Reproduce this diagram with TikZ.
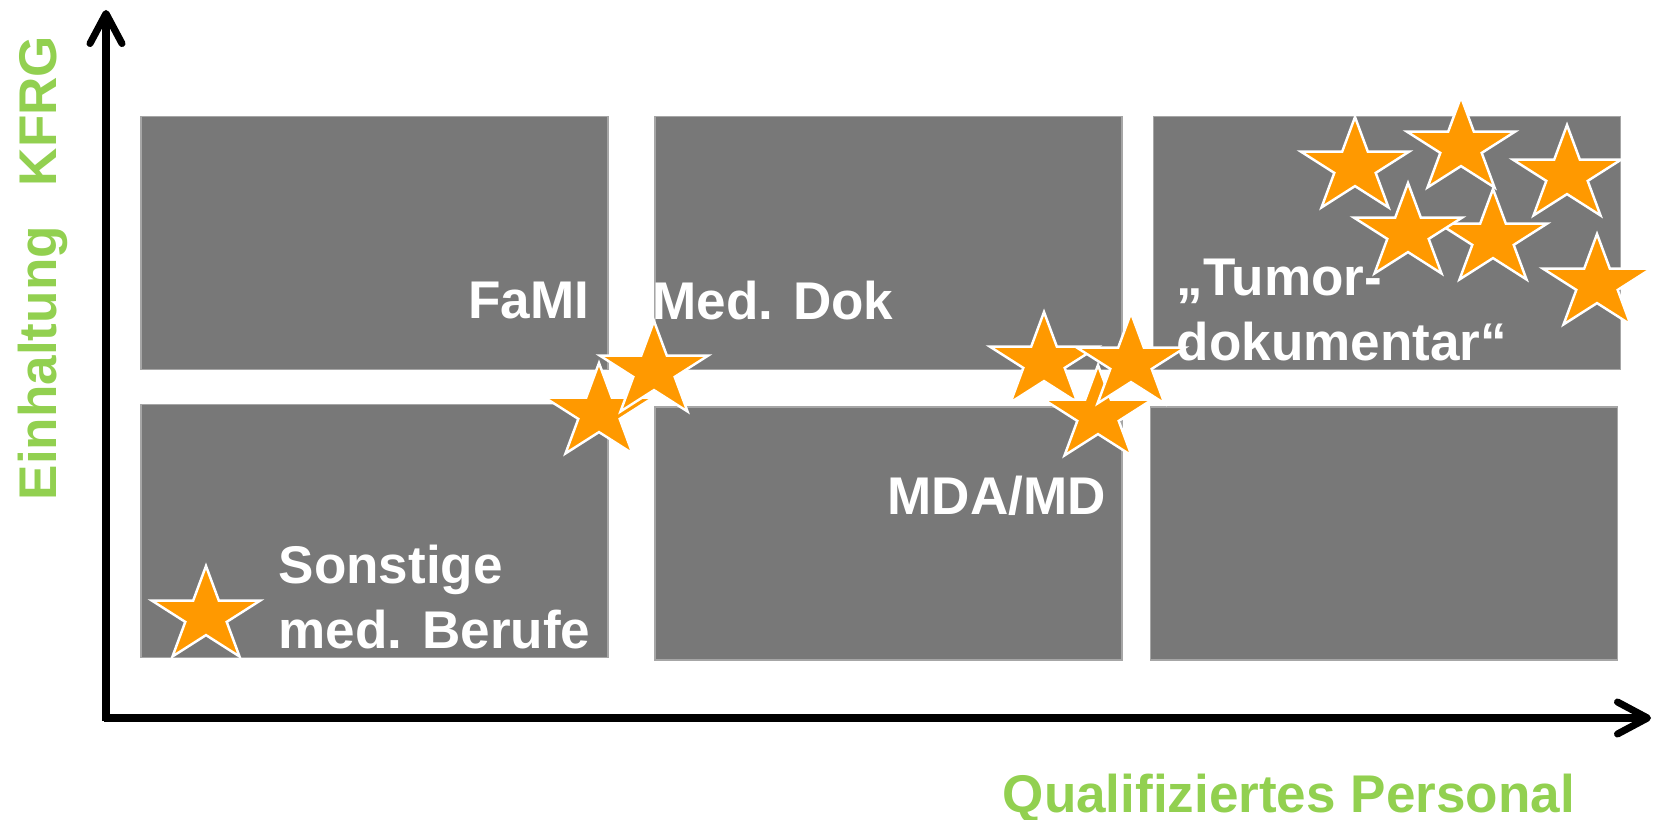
\documentclass[tikz,border=0pt]{standalone}
\usepackage{fontspec}
\setmainfont{Liberation Sans}
\usepackage{tikz}
\usetikzlibrary{arrows.meta, positioning, shapes.geometric}
\usepackage{xcolor}
\definecolor{boxgray}{RGB}{120,120,120}
\definecolor{lightgreen}{RGB}{146,208,80}
\definecolor{starorange}{RGB}{255,153,0}

\begin{document}
\begin{tikzpicture}[
    field/.style={rectangle,fill=boxgray,draw=black!35,line width=0.4pt,
        minimum width=4.67cm,minimum height=2.53cm,inner sep=0pt},
    label/.style={text=white,font=\bfseries\fontsize{15.1pt}{18.4pt}\selectfont,
        inner sep=0pt,align=left},
    axislabel/.style={text=lightgreen,font=\bfseries\fontsize{15.1pt}{18.4pt}\selectfont,
        inner sep=0pt},
    starmark/.style={star,star points=5,star point ratio=2.618,minimum size=1cm,
        inner sep=0pt,xscale=1.14,fill=starorange,draw=white,line width=0.7pt},
    axis/.style={line width=2pt,-{Straight Barb[length=0.3cm,width=0.32cm,round]}}
]
\useasboundingbox (0,0) rectangle (16.57,8.19);

% Fields
\node[field] (fami) at (3.746,5.76) {};
\node[field] (meddok) at (8.885,5.76) {};
\node[field] (tumor) at (13.87,5.76) {};
\node[field] (sonst) at (3.746,2.88) {};
\node[field] (mda) at (8.885,2.855) {};
\node[field] (empty) at (13.84,2.855) {};

% Labels
\node[label,anchor=base east] (tfami) at (5.90,5.01) {FaMI};
\node[label,anchor=base west] (tmeddok) at (6.52,5.00) {Med. Dok};
\node[label,anchor=base west] (tmda) at (8.87,3.05) {MDA/MD};
\node[label,anchor=base west] (ttumor) at (11.76,4.59) {„Tumor-\\dokumentar“};
\node[label,anchor=base west] (tsonst) at (2.78,1.71) {Sonstige\\med. Berufe};

% Axes
\coordinate (O) at (1.06,1.01);
\coordinate (ytop) at (1.06,8.09);
\coordinate (xend) at (16.51,1.01);
\draw[axis] (1.06,0.98) -- (ytop);
\draw[axis] (1.04,1.01) -- (xend);
\node[axislabel,anchor=base west] (xlab) at (10.02,0.07) {Qualifiziertes Personal};
\node[axislabel,anchor=base west,rotate=90] (ylab) at (0.56,3.18)
    {Einhaltung\hspace{0.4cm}KFRG};

% Stars
\node[starmark] (s1) at (2.06,2.03) {};
\node[starmark] (s2) at (5.99,4.06) {};
\node[starmark] (s3) at (6.54,4.48) {};
\node[starmark] (s4) at (10.44,4.57) {};
\node[starmark] (s5) at (10.98,4.04) {};
\node[starmark] (s6) at (11.31,4.56) {};
\node[starmark] (s7) at (13.55,6.52) {};
\node[starmark] (s8) at (14.61,6.72) {};
\node[starmark] (s9) at (15.67,6.44) {};
\node[starmark] (s11) at (14.93,5.80) {};
\node[starmark] (s10) at (14.08,5.86) {};
\node[starmark] (s12) at (15.97,5.35) {};
\end{tikzpicture}
\end{document}
